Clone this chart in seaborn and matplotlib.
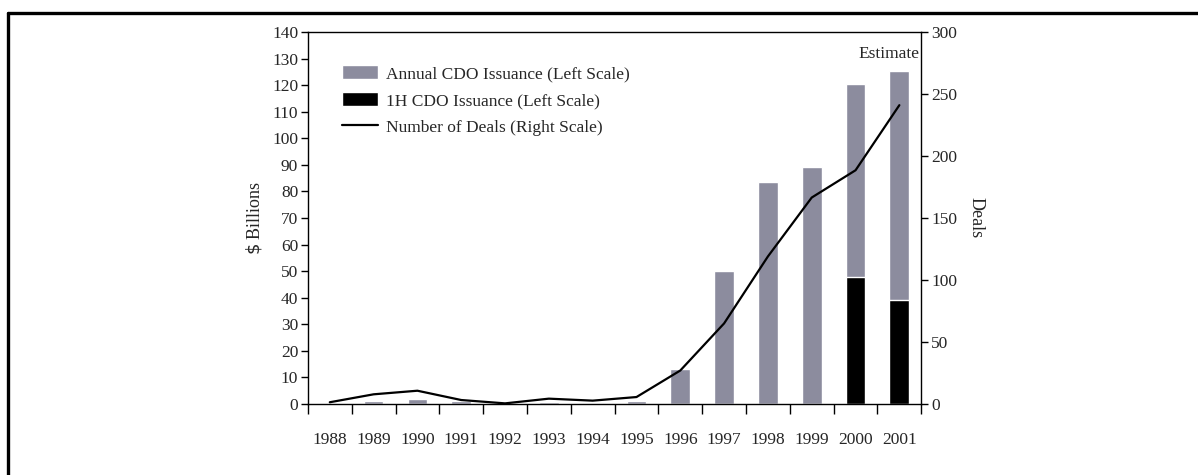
import matplotlib
matplotlib.use("Agg")
import matplotlib.pyplot as plt
from matplotlib.lines import Line2D
import seaborn as sns
import pandas as pd
import numpy as np

# chart data
years = ['1988', '1989', '1990', '1991', '1992', '1993', '1994',
         '1995', '1996', '1997', '1998', '1999', '2000', '2001']
annual_issuance = [0.0, 1.0, 1.8, 1.0, 0.3, 0.9, 0.5,
                   1.0, 13.0, 50.0, 83.4, 89.3, 120.5, 125.2]
first_half_issuance = [0, 0, 0, 0, 0, 0, 0,
                       0, 0, 0, 0, 0, 47.9, 39.1]
deals = [1.4, 7.8, 10.7, 3.2, 0.5, 4.3, 2.7,
         5.6, 27, 65, 119, 166.5, 188.5, 241]
left_ticks = list(range(0, 141, 10))
right_ticks = list(range(0, 301, 50))

df = pd.DataFrame({'year': years,
                   'annual': annual_issuance,
                   'first_half': first_half_issuance,
                   'pos': np.arange(len(years)),
                   'deals': deals})

sns.set_style("white")
plt.rcParams['font.family'] = ['Liberation Serif', 'DejaVu Serif']
plt.rcParams['font.size'] = 12.5

fig = plt.figure(figsize=(11.98, 4.75), dpi=100)
ax = fig.add_axes([0.257, 0.1495, 0.512, 0.7831])

sns.barplot(data=df, x='year', y='annual', order=years, color='#8c8c9e',
            width=0.45, saturation=1, ax=ax, label='Annual CDO Issuance (Left Scale)')
sns.barplot(data=df, x='year', y='first_half', order=years, color='black',
            width=0.45, saturation=1, ax=ax, label='1H CDO Issuance (Left Scale)')

ax.set_xlim(-0.5, len(years) - 0.5)
ax.set_ylim(0, 140)
ax.set_yticks(left_ticks)
ax.set_xlabel('')
ax.set_ylabel('$\\$$ Billions', fontsize=13, labelpad=6)

# labels centred on bars, tick marks between categories
ax.set_xticks(np.arange(len(years)))
ax.set_xticklabels(years)
ax.set_xticks(np.arange(-0.5, len(years)), minor=True)
ax.tick_params(axis='x', which='major', length=0, pad=20)
ax.tick_params(axis='x', which='minor', direction='out', length=7, width=1, color='black', bottom=True)
ax.tick_params(axis='y', direction='out', length=5, width=1, color='black', left=True, pad=2)

for side in ['left', 'right', 'top', 'bottom']:
    ax.spines[side].set_visible(True)
    ax.spines[side].set_color('black')
    ax.spines[side].set_linewidth(1)

ax2 = ax.twinx()
sns.lineplot(data=df, x='pos', y='deals', color='black', linewidth=1.6,
             ax=ax2, label='Number of Deals (Right Scale)')
ax2.set_ylim(0, 300)
ax2.set_yticks(right_ticks)
ax2.set_xlim(-0.5, len(years) - 0.5)
ax2.set_ylabel('Deals', rotation=-90, fontsize=13, labelpad=20)
ax2.tick_params(axis='y', direction='out', length=5, width=1, color='black', right=True, pad=2)
for side in ['left', 'right', 'top', 'bottom']:
    ax2.spines[side].set_visible(False)

h1, l1 = ax.get_legend_handles_labels()
h2, l2 = ax2.get_legend_handles_labels()
if ax2.get_legend() is not None:
    ax2.get_legend().remove()
ax.legend(h1 + h2, l1 + l2, loc='upper left', bbox_to_anchor=(0.044, 0.93),
          frameon=False, fontsize=12.5, handlelength=2.1, handleheight=0.9,
          labelspacing=0.55, handletextpad=0.45, borderaxespad=0)

ax.text(0.997, 0.94, 'Estimate', transform=ax.transAxes, ha='right', va='center', fontsize=12.5)

# page frame around the figure
fig.add_artist(Line2D([0.0063, 1.0], [0.9716, 0.9716], color='black', linewidth=2.4,
                      transform=fig.transFigure))
fig.add_artist(Line2D([0.0063, 0.0063], [0.0, 0.9716], color='black', linewidth=2.4,
                      transform=fig.transFigure))

fig.savefig("out.png", dpi=100)
